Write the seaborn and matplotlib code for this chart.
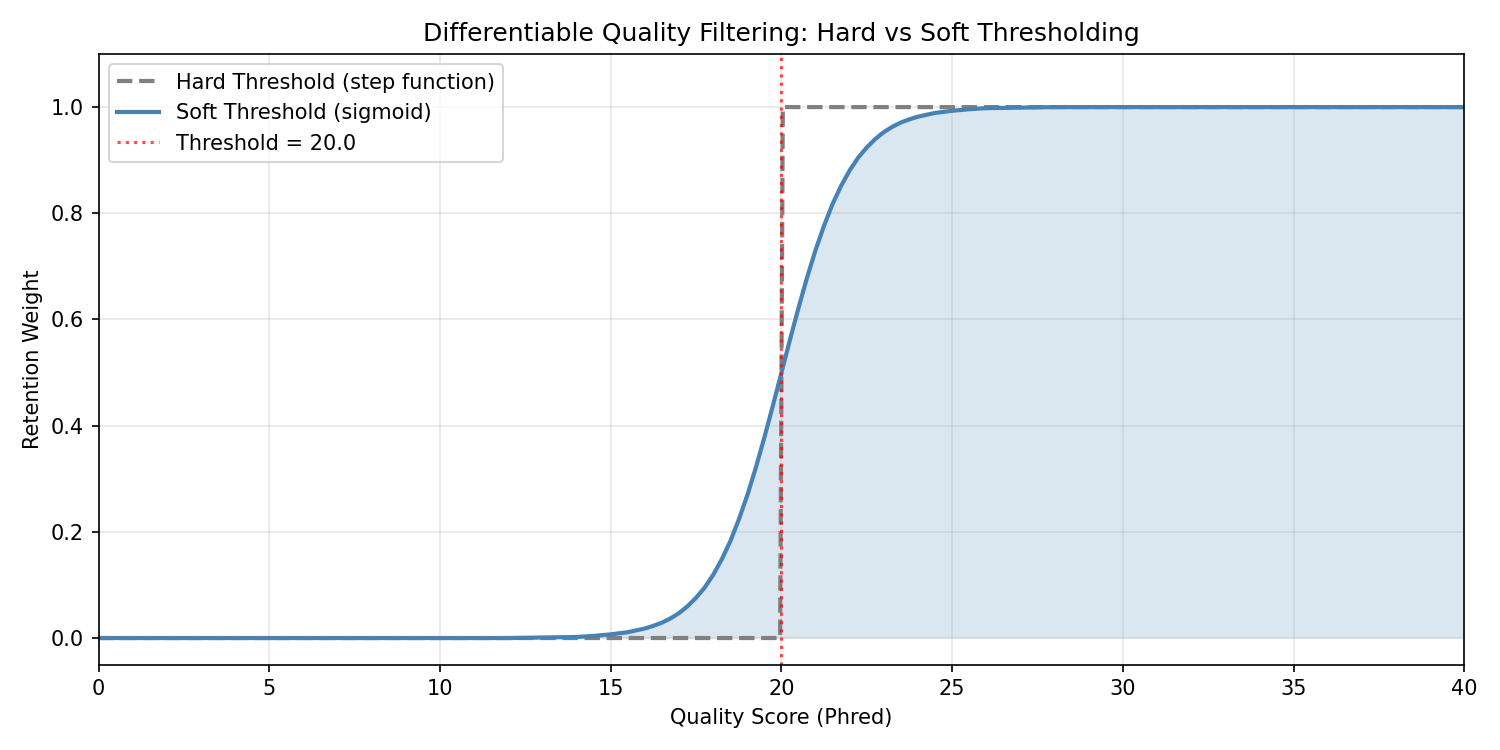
import numpy as np
import seaborn as sns
import matplotlib
matplotlib.use("Agg")
import matplotlib.pyplot as plt

# Soft threshold (sigmoid) curve
soft_x = [0, 2, 4, 6, 8, 10, 12, 13, 14, 14.5, 15, 15.5, 16, 16.25, 16.5, 16.75,
          17, 17.25, 17.5, 17.75, 18, 18.25, 18.5, 18.75, 19, 19.25, 19.5, 19.75,
          20, 20.25, 20.5, 20.75, 21, 21.25, 21.5, 21.75, 22, 22.25, 22.5, 22.75,
          23, 23.25, 23.5, 23.75, 24, 24.5, 25, 25.5, 26, 27, 28, 30, 32, 34, 36, 38, 40]
soft_y = [0.0, 0.0, 0.0, 0.0, 0.0, 0.0, 0.0, 0.001, 0.002, 0.004, 0.007, 0.011, 0.018, 0.023, 0.029, 0.037,
          0.047, 0.060, 0.076, 0.095, 0.119, 0.148, 0.182, 0.223, 0.269, 0.321, 0.378, 0.438,
          0.500, 0.562, 0.622, 0.679, 0.731, 0.777, 0.818, 0.852, 0.881, 0.905, 0.924, 0.940,
          0.953, 0.963, 0.971, 0.977, 0.982, 0.989, 0.993, 0.996, 0.998, 0.999, 1.0, 1.0, 1.0, 1.0, 1.0, 1.0, 1.0]

# Hard threshold (step function)
hard_x = [0, 19.96, 20.04, 40]
hard_y = [0, 0, 1, 1]

threshold = 20.0

fig, ax = plt.subplots(figsize=(10, 5), dpi=150)

sns.lineplot(x=hard_x, y=hard_y, ax=ax, color="gray", linestyle="--", linewidth=2,
             label="Hard Threshold (step function)", sort=False, estimator=None)
sns.lineplot(x=soft_x, y=soft_y, ax=ax, color="steelblue", linewidth=2,
             label="Soft Threshold (sigmoid)", sort=False, estimator=None)
ax.fill_between(soft_x, soft_y, color="steelblue", alpha=0.2, linewidth=0)
ax.axvline(threshold, color="red", linestyle=":", linewidth=1.5, alpha=0.7,
           label=f"Threshold = {threshold}")

ax.set_xlim(0, 40)
ax.set_ylim(-0.05, 1.1)
ax.set_xlabel("Quality Score (Phred)")
ax.set_ylabel("Retention Weight")
ax.set_title("Differentiable Quality Filtering: Hard vs Soft Thresholding")
ax.grid(True, alpha=0.3)
ax.legend(loc="upper left")

plt.tight_layout()
plt.savefig("out.png", dpi=150)
